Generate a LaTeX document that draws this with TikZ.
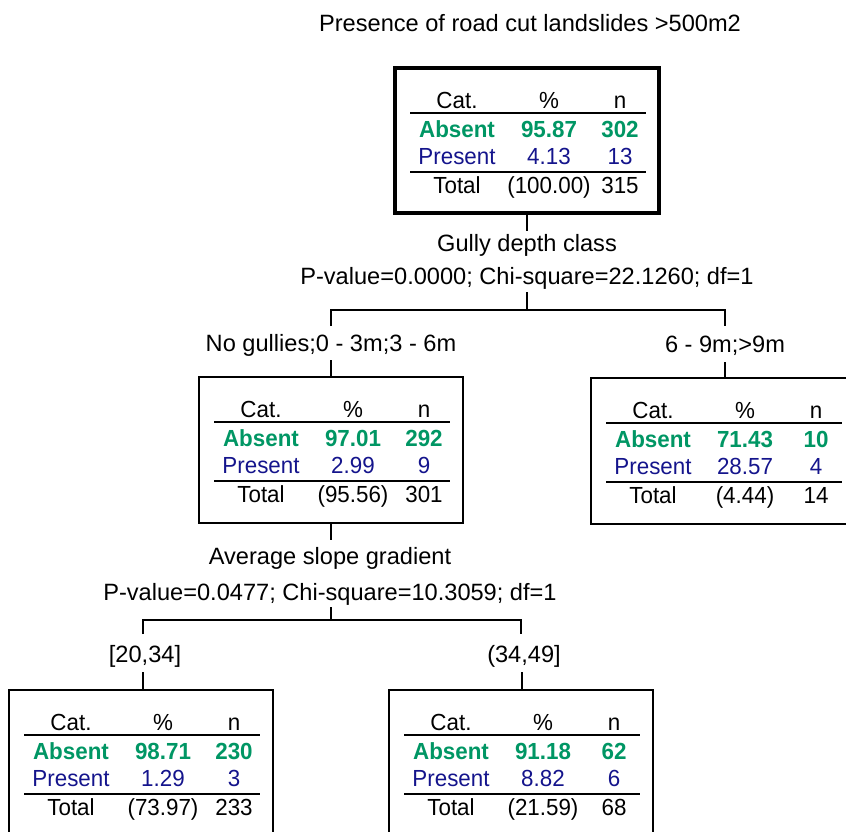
\documentclass[tikz,border=0pt]{standalone}
\usepackage{fontspec}
\setmainfont{Liberation Sans}
\newfontfamily\cellfont[FakeStretch=0.96]{Liberation Sans}
\definecolor{absentgreen}{RGB}{0,150,100}
\definecolor{presentblue}{RGB}{20,20,140}
\tikzset{
  statframe/.style={draw, line width=2pt, minimum width=264pt, minimum height=146pt,
    anchor=north west, inner sep=0pt, outer sep=0pt},
  rootframe/.style={line width=4pt, minimum height=145pt},
  celltext/.style={font=\cellfont\fontsize{23.3}{27}\selectfont, anchor=base, inner sep=0pt},
  absentcell/.style={celltext, font=\cellfont\fontsize{23.3}{27}\selectfont\bfseries, text=absentgreen},
  presentcell/.style={celltext, text=presentblue},
  rulebar/.style={line width=2pt},
  labeltext/.style={font=\fontsize{23.6}{28}\selectfont, anchor=base, inner sep=0pt},
  link/.style={line width=2pt},
}
% one node of the tree: frame plus its category table
% #1 name, #2 top-left corner, #3 frame style,
% #4/#5 absent % and n, #6/#7 present % and n, #8/#9 total % and n
\newcommand\statbox[9]{%
  \node[statframe,#3] (#1) at (#2) {};
  \begin{scope}[shift={(#1.north west)}]
    \node[celltext] (#1-cat) at (62,40) {Cat.};
    \node[celltext] (#1-pct) at (154,40) {\%};
    \node[celltext] (#1-n) at (225,40) {n};
    \draw[rulebar] (15,45) -- (251,45);
    \node[absentcell] (#1-abs) at (62,69) {Absent};
    \node[absentcell] (#1-absp) at (154,69) {#4};
    \node[absentcell] (#1-absn) at (225,69) {#5};
    \node[presentcell] (#1-pre) at (62,96) {Present};
    \node[presentcell] (#1-prep) at (154,96) {#6};
    \node[presentcell] (#1-pren) at (225,96) {#7};
    \draw[rulebar] (15,104) -- (251,104);
    \node[celltext] (#1-tot) at (62,125) {Total};
    \node[celltext] (#1-totp) at (154,125) {#8};
    \node[celltext] (#1-totn) at (225,125) {#9};
  \end{scope}}
\begin{document}
\begin{tikzpicture}[x=1pt,y=-1pt]
  \useasboundingbox (0,0) rectangle (846,831);
  \clip (0,0) rectangle (846,831);

  \node[labeltext] (title) at (530,31) {Presence of road cut landslides >500m2};

  % tree nodes
  \statbox{root}{395,68}{rootframe}{95.87}{302}{4.13}{13}{(100.00)}{315}
  \statbox{midL}{199,377}{}{97.01}{292}{2.99}{9}{(95.56)}{301}
  \statbox{midR}{591,378}{}{71.43}{10}{28.57}{4}{(4.44)}{14}
  \statbox{botL}{9,690}{}{98.71}{230}{1.29}{3}{(73.97)}{233}
  \statbox{botR}{389,690}{}{91.18}{62}{8.82}{6}{(21.59)}{68}

  % first split
  \node[labeltext] (split1var) at (527,251) {Gully depth class};
  \node[labeltext] (split1stat) at (527,284) {P-value=0.0000; Chi-square=22.1260; df=1};
  \coordinate (j1a) at (527,231);
  \coordinate (j1b) at (527,292);
  \coordinate (fork1L) at (331,310);
  \coordinate (fork1R) at (725,310);
  \coordinate (tip1L) at (331,326);
  \coordinate (tip1R) at (725,326);
  \draw[link] (root.south) -- (j1a);
  \draw[link] (j1b) -- (j1b |- fork1L);
  \draw[link] (tip1L) -- (fork1L) -- (fork1R) -- (tip1R);
  \node[labeltext] (br1L) at (331,351) {No gullies;0 - 3m;3 - 6m};
  \node[labeltext] (br1R) at (725,352) {6 - 9m;>9m};
  \coordinate (k1L) at (331,360);
  \coordinate (k1R) at (725,362);
  \draw[link] (k1L) -- (k1L |- midL.north);
  \draw[link] (k1R) -- (k1R |- midR.north);

  % second split
  \node[labeltext] (split2var) at (330,564) {Average slope gradient};
  \node[labeltext] (split2stat) at (330,600) {P-value=0.0477; Chi-square=10.3059; df=1};
  \coordinate (j2a) at (331,540);
  \coordinate (j2b) at (331,607);
  \coordinate (fork2L) at (143,620);
  \coordinate (fork2R) at (521,620);
  \coordinate (tip2L) at (143,634);
  \coordinate (tip2R) at (521,634);
  \draw[link] (midL.south) -- (j2a);
  \draw[link] (j2b) -- (j2b |- fork2L);
  \draw[link] (tip2L) -- (fork2L) -- (fork2R) -- (tip2R);
  \node[labeltext] (br2L) at (145,662) {[20,34]};
  \node[labeltext] (br2R) at (524,662) {(34,49]};
  \coordinate (k2L) at (143,672);
  \coordinate (k2R) at (522,672);
  \draw[link] (k2L) -- (k2L |- botL.north);
  \draw[link] (k2R) -- (k2R |- botR.north);
\end{tikzpicture}
\end{document}
